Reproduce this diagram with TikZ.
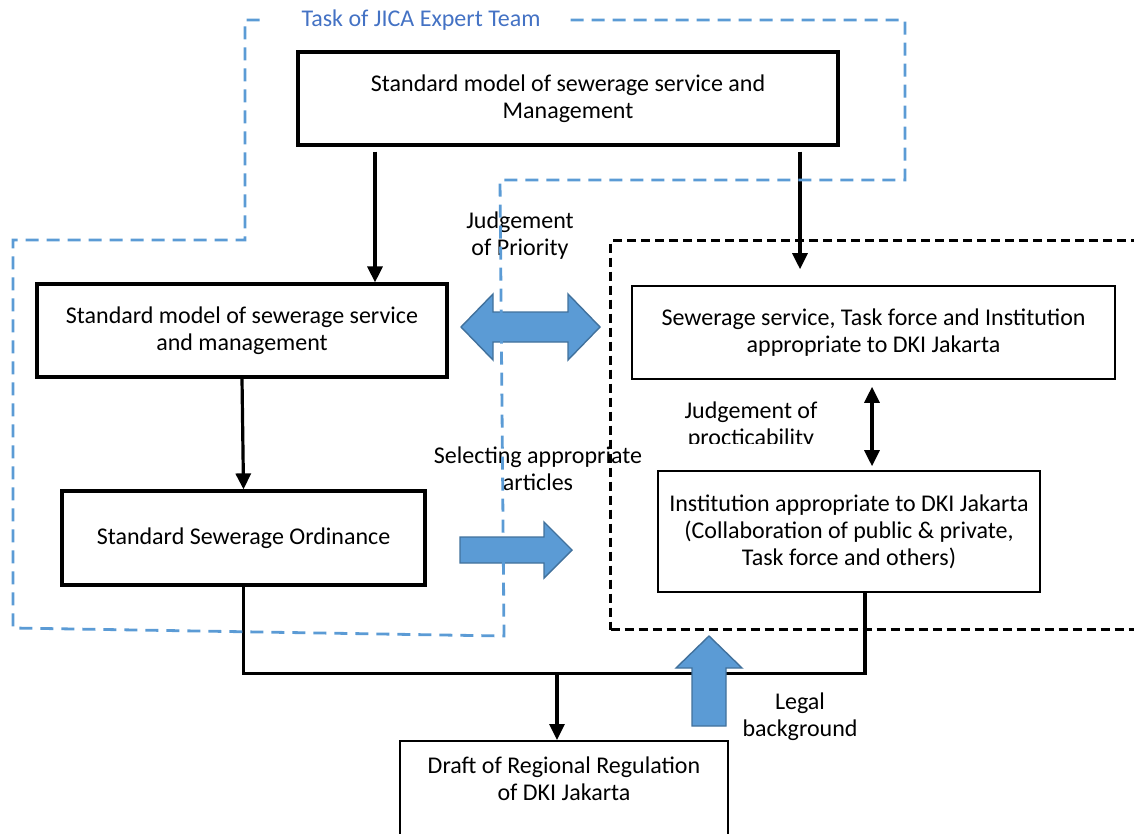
\documentclass[tikz,border=0pt]{standalone}
\usepackage{fontspec}
\setmainfont{Carlito}
\usetikzlibrary{arrows.meta,calc}
\definecolor{teamblue}{HTML}{5B9BD5}
\definecolor{teamtext}{HTML}{4472C4}
\definecolor{arrowedge}{HTML}{41719C}
\begin{document}
\begin{tikzpicture}[x=1pt,y=-1pt,
  every node/.style={font=\fontsize{24}{27}\selectfont, align=center, inner sep=0pt},
  thickbox/.style={draw, line width=3.2pt, minimum height=93pt},
  thinbox/.style={draw, line width=1.6pt},
  link/.style={line width=3.2pt},
  arr/.style={link, -{Triangle[length=16pt,width=15pt]}},
  dbl/.style={link, {Triangle[length=16pt,width=15pt]}-{Triangle[length=16pt,width=15pt]}},
  teamline/.style={draw=teamblue, line width=2.8pt, dash pattern=on 13pt off 8pt},
  localline/.style={draw, line width=3pt, dash pattern=on 9pt off 5pt},
  blockarrow/.style={fill=teamblue, draw=arrowedge, line width=1.4pt, line join=miter}
]
\useasboundingbox (0,0) rectangle (1134,833);

% free labels
\node (prio) at (520,236) {Judgement\\of Priority};
\node (select) at (538,469) {Selecting appropriate\\articles};
\node (legal) at (800,717) {Legal\\background};
\begin{scope}
  \clip (660,380) rectangle (850,443);
  \node (proct) at (751,425.5) {Judgement of\\procticability};
\end{scope}

% boxes
\node[thickbox, minimum width=540pt] (std) at (568,98.5)
  {Standard model of sewerage service and\\Management};
\node[thickbox, minimum width=410pt] (model) at (242,330.5)
  {Standard model of sewerage service\\and management};
\node[thickbox, minimum width=363pt, minimum height=94pt] (ord) at (243.5,538)
  {Standard Sewerage Ordinance};
\node[thinbox, minimum width=483pt, minimum height=93pt] (suit) at (873.5,332.5)
  {Sewerage service, Task force and Institution\\appropriate to DKI Jakarta};
\node[thinbox, minimum width=382pt, minimum height=121pt] (inst) at (849,531.5)
  {Institution appropriate to DKI Jakarta\\(Collaboration of public \& private,\\Task force and others)};
\node[thinbox, minimum width=328pt, anchor=north, inner ysep=16pt, text depth=60pt] (draft) at (564,740)
  {Draft of Regional Regulation\\of DKI Jakarta};

% connectors
\draw[arr] ($(std.south)+(-193,5)$) -- ($(model.north)+(133,0)$);
\draw[arr] ($(std.south)+(232,5)$) -- ($(suit.north)+(-73.5,-16)$);
\draw[arr] (model.south) -- (ord.north);
\draw[link] (ord.south) -- ++(0,87) -| ($(inst.south)+(16,0)$);
\coordinate (tap) at (557,675);
\draw[arr] (tap) -- (tap |- draft.north);
\draw[dbl] ($(suit.south)+(-1.5,7)$) -- ($(inst.north)+(23,-4)$);

% block arrows
\filldraw[blockarrow] (461,327) -- (493,294) -- (493,312) -- (568,312) -- (568,294)
  -- (600,327) -- (568,360) -- (568,342) -- (493,342) -- (493,360) -- cycle;
\filldraw[blockarrow] (460,537) -- (544,537) -- (544,522) -- (572,550) -- (544,578)
  -- (544,563) -- (460,563) -- cycle;
\filldraw[blockarrow] (709,636) -- (742,668) -- (726,668) -- (726,726) -- (692,726)
  -- (692,668) -- (676,668) -- cycle;

% local scope frame
\node[localline, anchor=north west, minimum width=560pt, minimum height=389pt] (local) at (609,239) {};

% expert team frame
\node[text=teamtext] (team) at (421,20) {Task of JICA Expert Team};
\draw[teamline] ($(team.east)+(30,0)$) -- (905,20) -- (905,180) -- (500,180) -- (504,636)
  -- (13,628) -- (13,240) -- (245,240) -- (245,20) -- ($(team.west)+(-38,0)$);
\end{tikzpicture}
\end{document}
